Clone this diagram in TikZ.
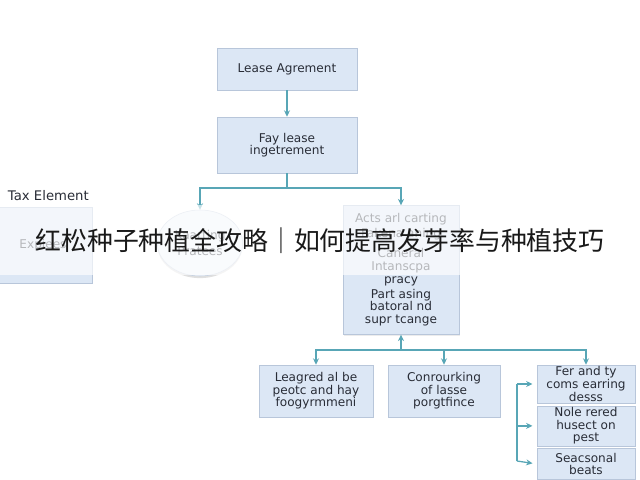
\documentclass[tikz,border=0pt]{standalone}
\usepackage{fontspec}
\setmainfont{DejaVu Sans}
\newfontfamily\cjk{Noto Sans CJK SC}
\usetikzlibrary{positioning, arrows.meta, calc, shapes.geometric, shadows}
\definecolor{boxfill}{RGB}{220, 231, 245}
\definecolor{boxline}{RGB}{184, 198, 218}
\definecolor{linkcolor}{RGB}{88, 166, 182}
\definecolor{textcolor}{RGB}{40, 44, 54}

\begin{document}
\begin{tikzpicture}[
    x=0.025cm, y=-0.025cm,
    box/.style={rectangle, draw=boxline, fill=boxfill, align=center, text=textcolor,
        font=\fontsize{8.6}{9}\selectfont, inner sep=1pt,
        drop shadow={opacity=0.15, shadow xshift=0.4pt, shadow yshift=-0.8pt}},
    bubble/.style={ellipse, draw=boxline!80, fill=boxfill!45, align=center, text=textcolor,
        font=\fontsize{8.6}{9}\selectfont,
        drop shadow={opacity=0.25, shadow xshift=0pt, shadow yshift=-1.5pt}},
    link/.style={draw=linkcolor, line width=0.9pt},
    arrow/.style={link, -{Stealth[length=1.6mm, width=1.5mm]}},
    label/.style={font=\fontsize{9.4}{10}\selectfont, text=textcolor},
]

% Canvas
\fill[white] (0,0) rectangle (640,480);
\useasboundingbox (0,0) rectangle (640,480);

% Top chain
\node[box, minimum width=3.5cm, minimum height=1.05cm] (agreement) at (287,69) {Lease Agrement};
\node[box, minimum width=3.5cm, minimum height=1.4cm] (fayLease) at (287,145) {Fay lease\\ingetrement};
\draw[arrow] (agreement) -- (fayLease);

% Left element
\node[label, anchor=west] (taxLabel) at (3,196) {Tax Element};
\node[box, minimum width=2.45cm, minimum height=1.9cm] (expiees) at (43,245) {Expiees};

% Middle bubble
\node[bubble, minimum width=2cm, minimum height=1.65cm] (prates) at (200,243) {Kaarting\\[3pt]Pratees};

% Right element
\node[box, minimum width=2.9cm, minimum height=3.22cm, font=\fontsize{8.6}{10}\selectfont] (practice) at (401,270) {
    Acts arl carting\\[0.7pt]
    Fakena aning\\[4pt]
    Caneral\\[-1pt]
    Intanscpa\\[-0.8pt]
    pracy\\[1.2pt]
    Part asing\\[-1.4pt]
    batoral nd\\[-0.7pt]
    supr tcange
};

% Top split
\coordinate (split1) at (287,188);
\draw[link] (fayLease.south) -- (split1);
\draw[arrow] (split1) -| (prates.north);
\draw[arrow] (split1) -| (practice.north);

% Bottom row
\node[box, minimum width=2.85cm, minimum height=1.3cm] (leagred) at (316,391) {Leagred al be\\peotc and hay\\foogyrmmeni};
\node[box, minimum width=2.8cm, minimum height=1.3cm] (portfolio) at (444,391) {Conrourking\\of lasse\\porgtfince};

% Stack
\node[box, minimum width=2.45cm, minimum height=0.95cm] (stackA) at (586,384) {Fer and ty\\coms earring\\desss};
\node[box, minimum width=2.45cm, minimum height=0.9cm, below=0.06cm of stackA] (stackB) {Nole rered\\husect on\\pest};
\node[box, minimum width=2.45cm, minimum height=0.78cm, below=0.05cm of stackB] (stackC) {Seacsonal\\beats};

% Bottom split
\coordinate (split2) at (401,350);
\draw[arrow] (split2) -- (practice.south);
\draw[arrow] (split2) -| (leagred.north);
\draw[arrow] (split2) -| (portfolio.north);
\draw[arrow] (split2) -| (stackA.north);

% Bracket to stack
\coordinate (brTop) at (517,384);
\coordinate (brBot) at (517,461);
\draw[link] (brTop) -- (brBot);
\draw[arrow, shorten >=3pt] (brTop) -- (stackA.west);
\draw[arrow, shorten >=3pt] (brTop |- stackB.west) -- (stackB.west);
\draw[arrow, shorten >=3pt] (brBot) -- (stackC.west);

% Overlay caption
\fill[white, opacity=0.66] (0,205) rectangle (640,275);
\node[font=\cjk\fontsize{18.4}{20}\selectfont, text=black!90, inner sep=0pt] (caption) at (320,241) {红松种子种植全攻略｜如何提高发芽率与种植技巧};

\end{tikzpicture}
\end{document}
